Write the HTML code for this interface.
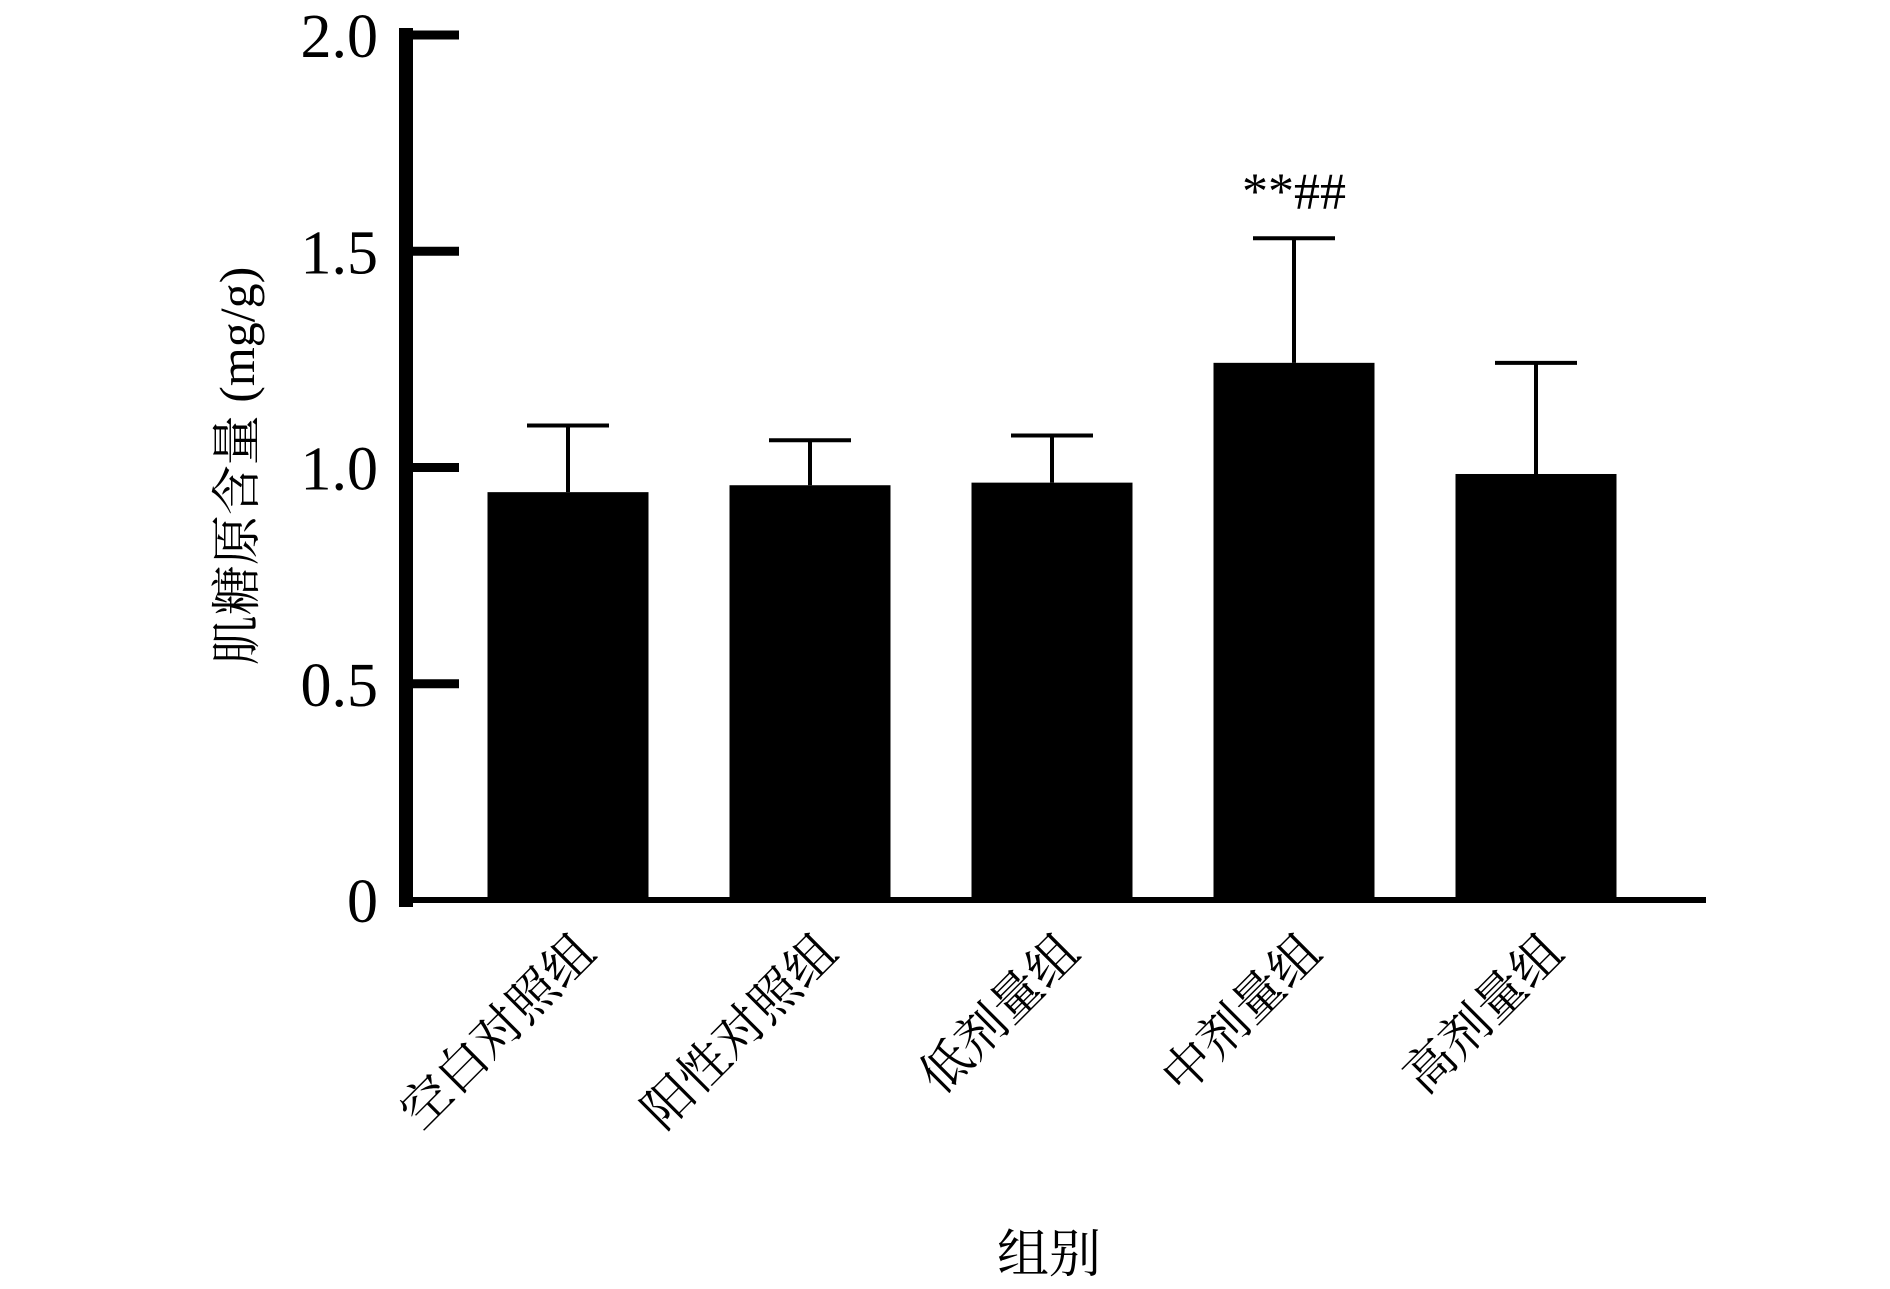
<!DOCTYPE html>
<html><head><meta charset="utf-8"><style>body{margin:0;background:#fff}svg{display:block}</style></head>
<body>
<svg id="chart" width="1890" height="1289" viewBox="0 0 1890 1289" xmlns="http://www.w3.org/2000/svg" font-family="'Liberation Serif','Noto Serif CJK SC',serif">
<g id="marks"></g>
</svg>
<script>
const categories = ["空白对照组","阳性对照组","低剂量组","中剂量组","高剂量组"];
const means = [0.943, 0.959, 0.965, 1.242, 0.985];
const errors = [0.154, 0.104, 0.109, 0.288, 0.257];
const yTicks = [0, 0.5, 1.0, 1.5, 2.0];
const yTickLabels = ["0","0.5","1.0","1.5","2.0"];
const annotations = ["","","","**##",""];

const NS="http://www.w3.org/2000/svg";
const g=document.getElementById('marks');
const axX=406, y0=900, yTop=35, xEnd=1706;
const y=v=>y0-(v/2)*(y0-yTop);
const step=242, firstC=568, bw=161;
const xc=i=>firstC+i*step;
function mk(tag,attrs){const e=document.createElementNS(NS,tag);for(const k in attrs)e.setAttribute(k,attrs[k]);g.appendChild(e);return e;}

categories.forEach((c,i)=>{
  const r=mk('rect',{x:xc(i)-bw/2,y:y(means[i]),width:bw,height:y0-y(means[i]),fill:'#000'});
  
  
  const el=mk('path',{d:`M${xc(i)} ${y(means[i])}V${y(means[i]+errors[i])}M${xc(i)-41} ${y(means[i]+errors[i])}H${xc(i)+41}`,stroke:'#000','stroke-width':4,fill:'none'});
  
  
  const t=mk('text',{x:0,y:0,'font-size':50,'text-anchor':'end',transform:`translate(${xc(i)+30},${y0+55}) rotate(-45)`});
  t.textContent=c;
  
  
  if(annotations[i]){
    const a=mk('text',{x:xc(i),y:y(means[i]+errors[i])-30,'font-size':52,'text-anchor':'middle'});
    a.textContent=annotations[i];
    
    
  }
});

const ya=mk('line',{x1:axX,y1:yTop-7,x2:axX,y2:y0+7,stroke:'#000','stroke-width':14});


const xa=mk('line',{x1:axX-7,y1:y0,x2:xEnd,y2:y0,stroke:'#000','stroke-width':6});



yTicks.forEach((v,i)=>{
  if(v>0){
    const tk=mk('line',{x1:axX,y1:y(v),x2:axX+53,y2:y(v),stroke:'#000','stroke-width':9});
    
    
  }
  const t=mk('text',{x:378,y:y(v)+22,'font-size':62,'text-anchor':'end'});
  t.textContent=yTickLabels[i];
  
  
});

const yt=mk('text',{x:0,y:0,'font-size':50,'text-anchor':'middle',transform:'translate(254,466) rotate(-90)'});
yt.textContent='肌糖原含量 (mg/g)';


const xt=mk('text',{x:1049,y:1272,'font-size':52,'text-anchor':'middle'});
xt.textContent='组别';


</script>
</body></html>
